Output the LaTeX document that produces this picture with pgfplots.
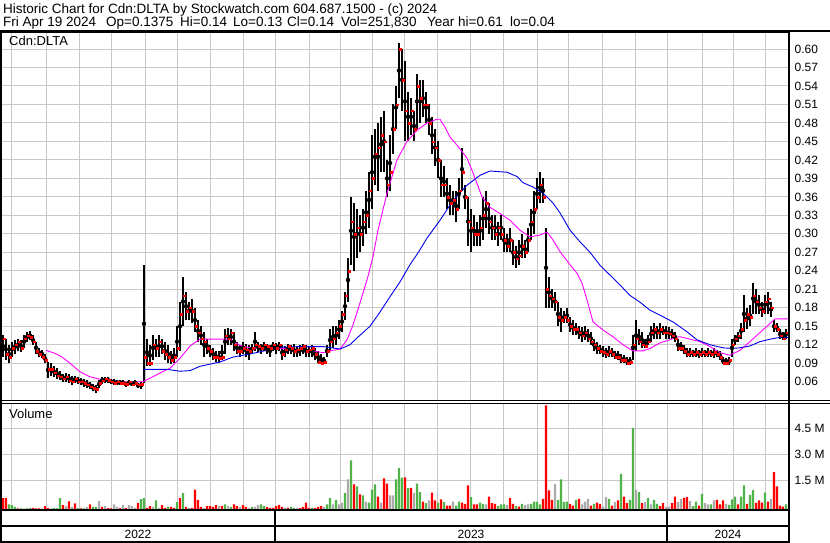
\documentclass[border=0pt]{standalone}
\usepackage{pgfplots}
\pgfplotsset{compat=1.18}
\usepackage{pgfplotstable}
\usepackage{fontspec}
\setmainfont{Liberation Sans}
\definecolor{gridgray}{RGB}{200,200,200}
\definecolor{vred}{RGB}{255,0,0}
\definecolor{vgreen}{RGB}{80,180,75}
\definecolor{vgray}{RGB}{170,170,170}
\definecolor{magline}{RGB}{255,0,255}
\definecolor{blueline}{RGB}{0,0,235}

\pgfplotstableread{
x h l c v k
3 0.135 0.100 0.130 650 0
6 0.130 0.095 0.105 650 0
9 0.120 0.090 0.100 300 1
12 0.125 0.100 0.115 250 1
15 0.128 0.105 0.120 150 1
18 0.130 0.110 0.125 60 0
21 0.128 0.108 0.115 60 1
24 0.135 0.115 0.130 50 1
27 0.140 0.125 0.135 60 1
30 0.142 0.128 0.132 80 1
33 0.135 0.120 0.125 100 0
36 0.125 0.105 0.110 60 0
39 0.115 0.100 0.105 60 0
42 0.112 0.098 0.100 50 1
45 0.105 0.090 0.095 200 0
48 0.092 0.066 0.080 80 0
51 0.090 0.070 0.080 60 2
54 0.085 0.068 0.075 80 1
57 0.082 0.065 0.070 80 1
60 0.078 0.062 0.068 655 1
63 0.072 0.060 0.065 250 0
66 0.074 0.060 0.068 200 2
69 0.072 0.058 0.062 465 0
72 0.070 0.055 0.060 150 2
75 0.070 0.058 0.065 350 0
78 0.068 0.056 0.060 80 1
81 0.066 0.055 0.060 60 0
84 0.064 0.052 0.058 60 1
87 0.062 0.050 0.055 150 2
90 0.060 0.048 0.052 300 0
93 0.056 0.045 0.050 150 1
96 0.055 0.042 0.048 150 1
99 0.062 0.050 0.058 480 2
102 0.068 0.056 0.062 150 0
105 0.068 0.058 0.065 200 2
108 0.068 0.058 0.063 80 0
111 0.065 0.056 0.060 60 0
114 0.064 0.055 0.058 300 2
117 0.062 0.054 0.060 150 2
120 0.063 0.055 0.058 80 0
123 0.062 0.054 0.058 250 2
126 0.060 0.052 0.056 100 0
129 0.062 0.055 0.060 250 2
132 0.060 0.053 0.055 200 2
135 0.062 0.054 0.058 100 2
138 0.058 0.050 0.055 365 0
141 0.060 0.048 0.056 600 1
144 0.250 0.058 0.100 655 1
147 0.130 0.085 0.090 100 0
150 0.120 0.085 0.090 200 0
153 0.135 0.095 0.120 150 2
156 0.130 0.100 0.115 520 1
159 0.135 0.100 0.125 100 2
162 0.130 0.105 0.110 250 0
165 0.125 0.095 0.105 100 0
168 0.120 0.090 0.100 150 1
171 0.110 0.088 0.095 150 0
174 0.115 0.090 0.100 100 0
177 0.150 0.100 0.115 425 1
180 0.190 0.110 0.170 655 0
183 0.230 0.150 0.200 945 1
186 0.205 0.160 0.175 150 0
189 0.190 0.160 0.180 100 2
192 0.195 0.155 0.175 80 0
195 0.180 0.140 0.150 1140 0
198 0.160 0.125 0.140 560 0
201 0.150 0.120 0.130 150 0
204 0.140 0.100 0.125 100 2
207 0.130 0.105 0.115 200 0
210 0.120 0.100 0.110 200 0
213 0.115 0.095 0.100 150 0
216 0.110 0.092 0.100 250 0
219 0.110 0.090 0.098 200 2
222 0.120 0.095 0.100 200 0
225 0.145 0.105 0.135 300 1
228 0.147 0.120 0.130 200 2
231 0.145 0.120 0.140 150 1
234 0.140 0.110 0.120 300 0
237 0.125 0.105 0.110 200 0
240 0.120 0.100 0.110 150 2
243 0.125 0.105 0.115 250 0
246 0.122 0.100 0.112 150 0
249 0.120 0.095 0.110 100 2
252 0.122 0.105 0.115 150 1
255 0.140 0.110 0.120 150 2
258 0.125 0.108 0.118 250 2
261 0.122 0.105 0.115 300 1
264 0.125 0.110 0.120 200 1
267 0.122 0.105 0.118 150 0
270 0.120 0.100 0.115 100 0
273 0.125 0.110 0.120 100 0
276 0.123 0.105 0.115 190 0
279 0.125 0.110 0.120 270 0
282 0.120 0.095 0.105 150 0
285 0.118 0.100 0.112 100 2
288 0.122 0.105 0.118 100 0
291 0.120 0.105 0.115 150 1
294 0.122 0.100 0.110 100 1
297 0.118 0.100 0.112 100 2
300 0.120 0.102 0.115 80 0
303 0.122 0.105 0.118 150 0
306 0.120 0.100 0.110 400 0
309 0.118 0.100 0.112 100 0
312 0.120 0.100 0.115 100 1
315 0.115 0.095 0.105 80 0
318 0.110 0.090 0.092 150 0
321 0.105 0.088 0.090 200 0
324 0.100 0.088 0.092 150 2
327 0.120 0.100 0.110 300 1
330 0.145 0.110 0.125 655 1
333 0.150 0.115 0.130 300 2
336 0.150 0.120 0.140 560 1
339 0.160 0.130 0.150 300 2
342 0.175 0.140 0.170 400 2
345 0.205 0.160 0.200 965 1
348 0.260 0.190 0.240 1740 2
351 0.360 0.250 0.320 2840 1
354 0.350 0.240 0.300 1450 0
357 0.340 0.260 0.310 1330 1
360 0.330 0.270 0.300 870 0
363 0.340 0.280 0.320 810 1
366 0.370 0.300 0.330 460 2
369 0.400 0.310 0.370 400 1
372 0.460 0.340 0.390 1140 1
375 0.470 0.380 0.430 1450 1
378 0.480 0.370 0.440 750 0
381 0.490 0.400 0.460 400 2
384 0.500 0.400 0.450 1800 0
387 0.420 0.360 0.380 1500 0
390 0.460 0.370 0.400 810 2
393 0.510 0.430 0.470 810 2
396 0.540 0.470 0.510 1740 1
399 0.610 0.520 0.600 2380 1
402 0.600 0.500 0.550 1840 1
405 0.580 0.450 0.500 1860 0
408 0.530 0.450 0.480 1240 1
411 0.520 0.460 0.500 1250 0
414 0.500 0.450 0.470 965 2
417 0.560 0.470 0.540 1490 1
420 0.550 0.480 0.520 1000 1
423 0.550 0.490 0.510 460 0
426 0.530 0.480 0.510 365 1
429 0.510 0.460 0.480 520 2
432 0.490 0.430 0.450 980 0
435 0.470 0.410 0.440 520 0
438 0.450 0.390 0.420 400 1
441 0.420 0.360 0.380 580 0
444 0.410 0.360 0.380 425 1
447 0.390 0.340 0.360 230 0
450 0.380 0.330 0.350 230 0
453 0.370 0.330 0.355 460 2
456 0.370 0.320 0.340 230 1
459 0.390 0.340 0.370 460 1
462 0.440 0.370 0.400 400 0
465 0.380 0.340 0.360 330 0
468 0.360 0.280 0.320 1390 0
471 0.340 0.270 0.310 715 1
474 0.330 0.280 0.300 290 0
477 0.320 0.280 0.300 290 0
480 0.330 0.280 0.310 400 1
483 0.360 0.290 0.330 330 1
486 0.370 0.310 0.350 300 2
489 0.350 0.300 0.320 750 0
492 0.330 0.290 0.310 365 0
495 0.330 0.290 0.300 330 0
498 0.320 0.280 0.310 200 1
501 0.330 0.290 0.300 290 1
504 0.310 0.270 0.290 290 1
507 0.300 0.270 0.280 250 2
510 0.310 0.270 0.290 655 0
513 0.290 0.250 0.270 330 0
516 0.280 0.245 0.260 200 1
519 0.290 0.250 0.265 170 0
522 0.300 0.260 0.280 330 1
525 0.290 0.260 0.270 250 2
528 0.310 0.270 0.290 290 2
531 0.340 0.290 0.320 330 1
534 0.370 0.300 0.340 460 1
537 0.390 0.340 0.360 460 1
540 0.400 0.350 0.380 300 1
543 0.390 0.350 0.360 620 0
546 0.310 0.180 0.210 6000 0
549 0.230 0.180 0.200 1100 0
552 0.210 0.180 0.195 560 0
555 0.205 0.175 0.190 1480 2
558 0.190 0.150 0.165 560 1
561 0.180 0.140 0.160 1740 1
564 0.175 0.155 0.165 425 1
567 0.180 0.155 0.160 460 1
570 0.165 0.140 0.150 330 0
573 0.160 0.135 0.145 230 0
576 0.155 0.135 0.145 560 1
579 0.150 0.130 0.140 620 0
582 0.148 0.125 0.135 290 2
585 0.150 0.128 0.140 460 2
588 0.145 0.125 0.130 620 2
591 0.140 0.120 0.125 230 0
594 0.130 0.110 0.120 330 1
597 0.125 0.105 0.115 400 0
600 0.120 0.105 0.110 330 0
603 0.118 0.100 0.108 170 2
606 0.115 0.098 0.105 715 2
609 0.118 0.100 0.110 620 1
612 0.115 0.100 0.105 230 0
615 0.110 0.097 0.100 425 2
618 0.110 0.095 0.100 520 0
621 0.105 0.090 0.095 2060 1
624 0.103 0.090 0.095 750 0
627 0.100 0.087 0.090 365 0
630 0.100 0.087 0.092 560 1
633 0.135 0.095 0.120 4710 1
636 0.160 0.110 0.130 1135 2
639 0.145 0.120 0.125 1000 1
642 0.140 0.115 0.120 365 0
645 0.130 0.115 0.118 425 2
648 0.135 0.120 0.125 675 1
651 0.150 0.125 0.140 290 2
654 0.155 0.130 0.145 560 1
657 0.150 0.130 0.140 330 1
660 0.155 0.130 0.145 200 0
663 0.150 0.135 0.140 365 0
666 0.150 0.130 0.140 150 2
669 0.148 0.130 0.138 170 2
672 0.145 0.130 0.135 365 0
675 0.140 0.125 0.130 750 0
678 0.130 0.110 0.115 425 2
681 0.125 0.110 0.115 600 2
684 0.120 0.105 0.110 675 0
687 0.115 0.100 0.105 715 0
690 0.115 0.100 0.108 480 2
693 0.112 0.100 0.105 200 1
696 0.115 0.100 0.108 460 1
699 0.112 0.098 0.105 230 0
702 0.115 0.100 0.108 905 1
705 0.112 0.100 0.105 365 2
708 0.115 0.100 0.108 290 2
711 0.112 0.100 0.105 290 1
714 0.115 0.098 0.108 520 2
717 0.112 0.100 0.105 560 0
720 0.110 0.095 0.100 300 0
723 0.100 0.088 0.090 520 0
726 0.098 0.087 0.090 330 2
729 0.100 0.087 0.095 270 1
732 0.130 0.100 0.120 580 1
735 0.135 0.120 0.130 750 1
738 0.140 0.125 0.135 290 0
741 0.155 0.130 0.145 750 1
744 0.200 0.140 0.160 1390 1
747 0.180 0.145 0.170 330 0
750 0.185 0.150 0.165 845 1
753 0.220 0.170 0.200 1135 1
756 0.210 0.170 0.190 385 0
759 0.200 0.170 0.180 520 0
762 0.190 0.165 0.175 400 0
765 0.200 0.170 0.190 980 1
768 0.205 0.170 0.195 460 0
771 0.190 0.165 0.180 620 2
774 0.160 0.140 0.150 2150 0
777 0.155 0.140 0.145 1330 0
780 0.145 0.130 0.135 230 0
783 0.140 0.128 0.130 170 0
786 0.145 0.130 0.140 290 1
}\data

\newcommand{\monthticks}{12,46,79,111,145,177,210,243,275,309,340,372,404,437,470,503,537,568,602,635,667,702,733,765}

\pgfplotsset{panel/.style={
  anchor=north west, scale only axis,
  width=787.5pt, xmin=1.5, xmax=789,
  xtick=\monthticks, xticklabels={,,},
  yticklabel pos=right, scaled y ticks=false,
  major tick length=0pt, tick style={draw=none},
  grid=major, grid style={gridgray, line width=1pt},
  axis line style={black, line width=0.8pt},
  yticklabel style={font=\fontsize{12}{14}\selectfont, inner sep=0pt, anchor=west, xshift=5.5pt},
}}

\begin{document}
\begin{tikzpicture}
\path[use as bounding box] (0pt,0pt) rectangle (830pt,-543pt);
\fill[white] (0pt,0pt) rectangle (830pt,-543pt);

% ---------- price panel ----------
\begin{axis}[panel,
  at={(1.5pt,-32pt)}, height=368pt,
  ymin=0.0303, ymax=0.6276,
  ytick={0.06,0.09,0.12,0.15,0.18,0.21,0.24,0.27,0.30,0.33,0.36,0.39,0.42,0.45,0.48,0.51,0.54,0.57,0.60},
  yticklabels={0.06,0.09,0.12,0.15,0.18,0.21,0.24,0.27,0.30,0.33,0.36,0.39,0.42,0.45,0.48,0.51,0.54,0.57,0.60},
]
\addplot[black, only marks, mark=none,
  error bars/.cd, y dir=both, y explicit, error mark=none,
  error bar style={draw=black, line width=1.2pt}]
  table[x=x, y expr={(\thisrow{h}+\thisrow{l})/2}, y error expr={(\thisrow{h}-\thisrow{l})/2}] {\data};
\addplot[only marks, mark=square*, mark size=0.8pt, mark options={fill=vred, draw=vred, line width=0.2pt}]
  table[x expr={\thisrow{x}+1}, y=c] {\data};
\addplot[magline, line width=0.9pt] coordinates {
(46,0.111) (55,0.106) (62,0.100) (70,0.090) (80,0.076) (90,0.068) (100,0.064) (120,0.060) (143,0.060) (148,0.064) (160,0.074) (170,0.082) (180,0.098) (190,0.118) (200,0.129) (230,0.129) (240,0.119) (250,0.115) (270,0.115) (290,0.113) (310,0.111) (323,0.107) (333,0.111) (340,0.113) (347,0.128) (353,0.152) (360,0.188) (367,0.225) (373,0.263) (378,0.306) (387,0.366) (397,0.420) (407,0.450) (417,0.468) (427,0.480) (437,0.486) (440,0.486) (445,0.473) (450,0.457) (457,0.444) (467,0.423) (473,0.399) (482,0.360) (490,0.343) (500,0.333) (510,0.322) (520,0.306) (530,0.295) (540,0.298) (547,0.303) (553,0.290) (560,0.271) (570,0.250) (577,0.236) (582,0.220) (587,0.193) (593,0.157) (603,0.144) (613,0.133) (623,0.120) (633,0.110) (643,0.110) (650,0.114) (660,0.123) (670,0.128) (675,0.132) (680,0.133) (690,0.129) (700,0.125) (710,0.117) (720,0.107) (730,0.103) (740,0.111) (750,0.125) (760,0.140) (767,0.150) (775,0.162) (788,0.162)};
\addplot[blueline, line width=0.9pt] coordinates {
(143,0.080) (167,0.080) (180,0.077) (190,0.078) (200,0.085) (220,0.092) (233,0.100) (250,0.105) (267,0.111) (283,0.116) (300,0.117) (323,0.117) (340,0.113) (350,0.120) (357,0.131) (370,0.150) (380,0.173) (390,0.198) (400,0.222) (410,0.250) (418,0.269) (427,0.293) (440,0.322) (453,0.354) (467,0.379) (480,0.395) (490,0.402) (507,0.400) (517,0.393) (523,0.383) (533,0.376) (543,0.366) (553,0.350) (560,0.334) (570,0.306) (580,0.287) (590,0.270) (600,0.249) (610,0.233) (620,0.217) (630,0.200) (640,0.189) (650,0.176) (660,0.168) (673,0.157) (687,0.141) (697,0.128) (710,0.120) (723,0.115) (732,0.114) (740,0.115) (750,0.118) (760,0.125) (770,0.129) (780,0.132) (788,0.132)};
\end{axis}

% ---------- volume panel ----------
\begin{axis}[panel,
  at={(1.5pt,-403pt)}, height=106.5pt,
  ymin=0, ymax=6144,
  ytick={1702,3185,4685}, yticklabels={1.5 M,3.0 M,4.5 M},
]
\addplot[ybar, bar width=2.3pt, bar shift=0pt, fill=vred, draw=none,
  restrict expr to domain={\thisrow{k}}{0:0}] table[x=x, y=v] {\data};
\addplot[ybar, bar width=2.3pt, bar shift=0pt, fill=vgreen, draw=none,
  restrict expr to domain={\thisrow{k}}{1:1}] table[x=x, y=v] {\data};
\addplot[ybar, bar width=2.3pt, bar shift=0pt, fill=vgray, draw=none,
  restrict expr to domain={\thisrow{k}}{2:2}] table[x=x, y=v] {\data};
\end{axis}

% ---------- frame lines ----------
\draw[line width=2pt] (0pt,-31pt) -- (830pt,-31pt);
\draw[line width=2pt] (1pt,-30pt) -- (1pt,-542.5pt);
\draw[line width=2pt] (789pt,-30pt) -- (789pt,-542.5pt);
\draw[line width=1pt] (0pt,-400.5pt) -- (830pt,-400.5pt);
\draw[line width=1pt] (0pt,-403pt) -- (830pt,-403pt);
\draw[line width=2pt] (0pt,-510pt) -- (789pt,-510pt);
\draw[line width=1.6pt] (0pt,-526pt) -- (789pt,-526pt);
\draw[line width=2pt] (0pt,-541.5pt) -- (789pt,-541.5pt);
\draw[line width=1.5pt] (275pt,-510pt) -- (275pt,-542pt);
\draw[line width=1.5pt] (667pt,-510pt) -- (667pt,-542pt);

% ---------- texts ----------
\begin{scope}[every node/.style={inner sep=0pt, anchor=base west, font=\fontsize{13.5}{16}\selectfont}]
\node at (3pt,-14pt) {Historic Chart for Cdn:DLTA by Stockwatch.com 604.687.1500 - (c) 2024};
\node at (3pt,-27pt) {Fri Apr 19 2024};
\node at (106pt,-27pt) {Op=0.1375};
\node at (180pt,-27pt) {Hi=0.14};
\node at (233pt,-27pt) {Lo=0.13};
\node at (287pt,-27pt) {Cl=0.14};
\node at (341pt,-27pt) {Vol=251,830};
\node at (427pt,-27pt) {Year hi=0.61};
\node at (510pt,-27pt) {lo=0.04};
\end{scope}
\node[inner sep=0pt, anchor=base west, font=\fontsize{13}{15}\selectfont] at (9pt,-46pt) {Cdn:DLTA};
\node[inner sep=0pt, anchor=base west, font=\fontsize{13}{15}\selectfont] at (9pt,-418pt) {Volume};
\node[inner sep=0pt, anchor=base, font=\fontsize{12}{14}\selectfont] at (138pt,-538.5pt) {2022};
\node[inner sep=0pt, anchor=base, font=\fontsize{12}{14}\selectfont] at (471pt,-538.5pt) {2023};
\node[inner sep=0pt, anchor=base, font=\fontsize{12}{14}\selectfont] at (728pt,-538.5pt) {2024};
\end{tikzpicture}
\end{document}
